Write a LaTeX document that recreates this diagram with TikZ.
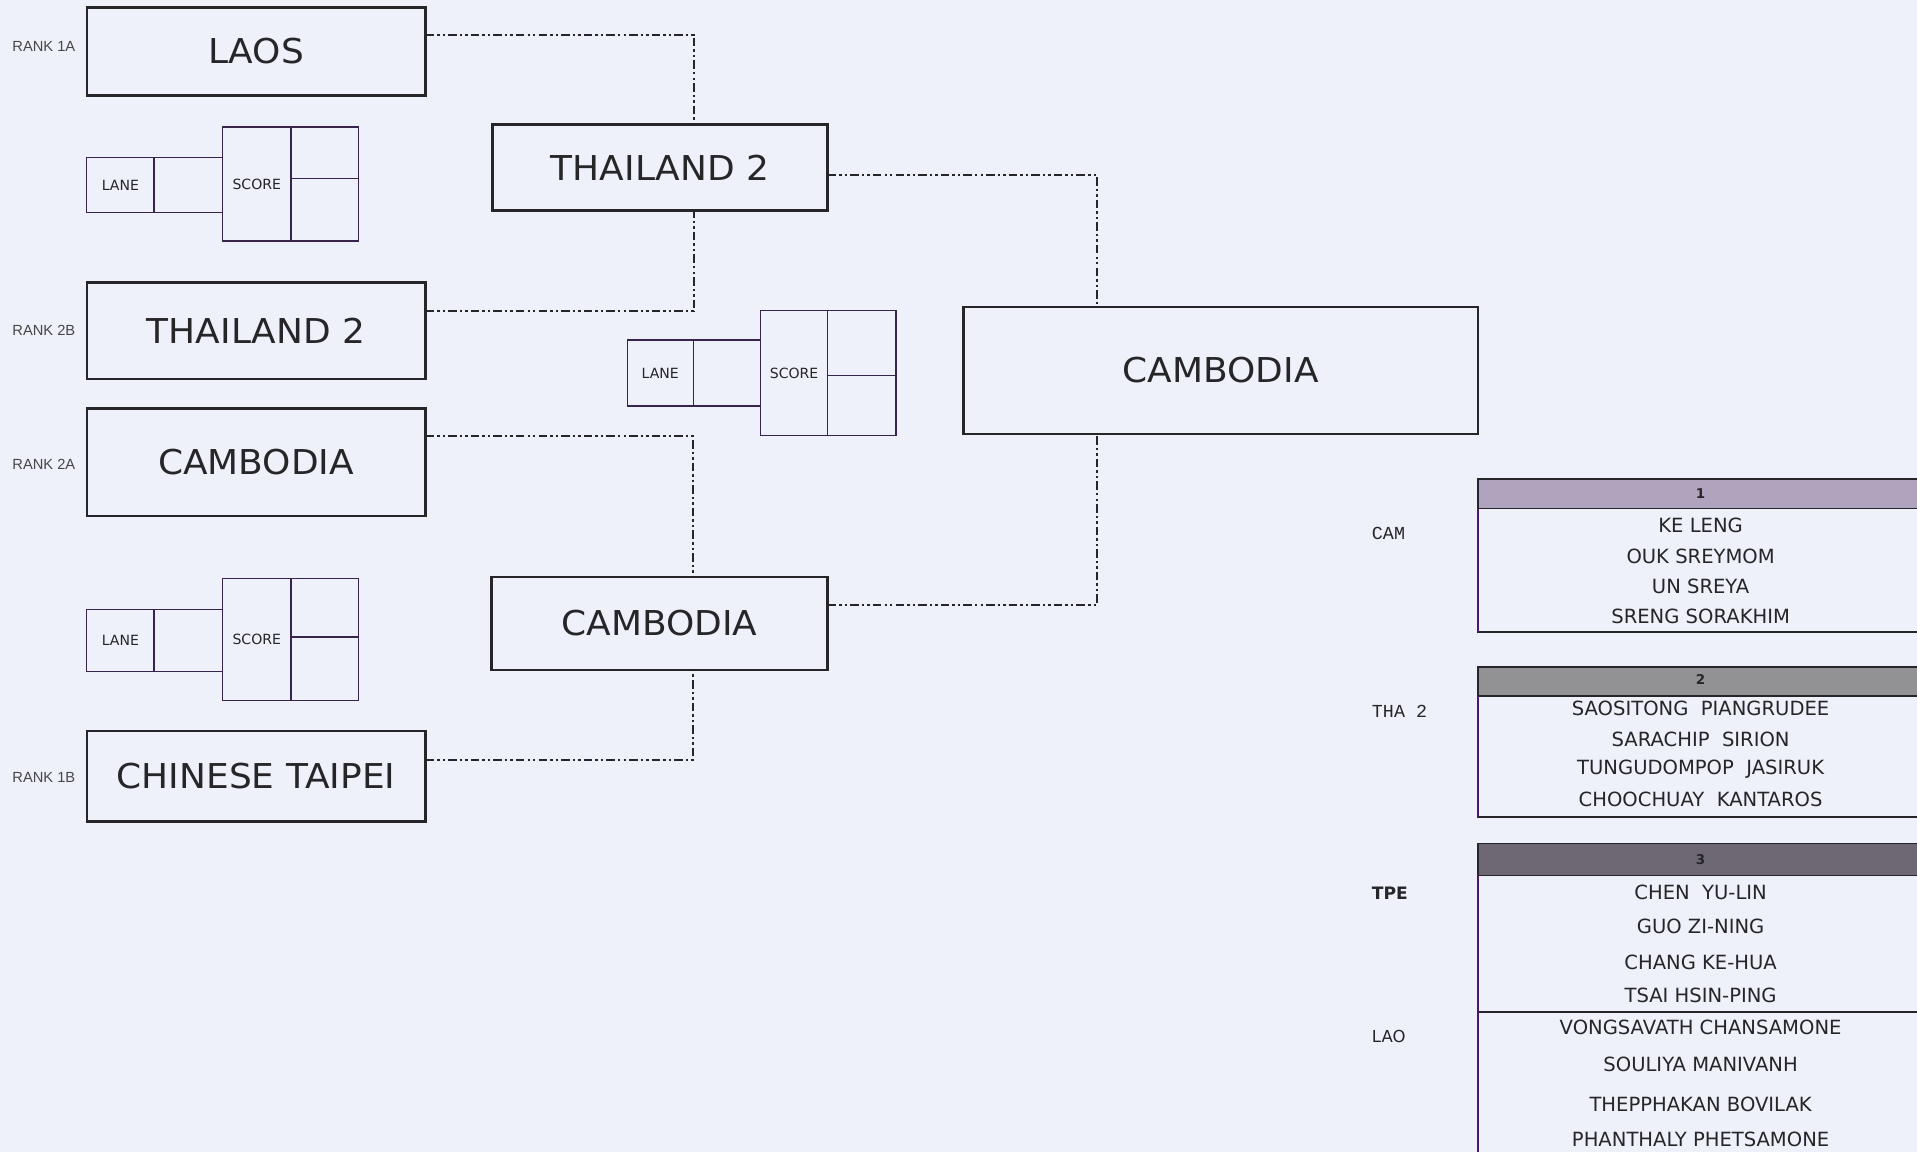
\documentclass[tikz,border=0pt]{standalone}
\usepackage{fontspec}
\setmainfont{DejaVu Sans}
\newfontfamily\teamfont[FakeStretch=1.05]{DejaVu Sans}
\newfontfamily\rankfont{Liberation Sans}
\newfontfamily\codefont{Liberation Mono}
\usetikzlibrary{calc}
\definecolor{bg}{RGB}{238,240,250}
\definecolor{ink}{RGB}{38,38,40}
\definecolor{cellc}{RGB}{55,35,75}
\definecolor{purpline}{RGB}{75,25,100}
\definecolor{headA}{RGB}{176,163,190}
\definecolor{headB}{RGB}{146,146,148}
\definecolor{headC}{RGB}{110,104,116}
\begin{document}
\begin{tikzpicture}[x=1pt,y=-1pt,
  team/.style={draw=ink, line width=2pt, inner sep=0pt, outer sep=0pt, text=ink,
    font=\teamfont\fontsize{28}{30}\selectfont},
  cell/.style={draw=cellc, line width=1.1pt, inner sep=0pt, outer sep=0pt, text=ink},
  celltxt/.style={font=\fontsize{11.5}{12}\selectfont},
  conn/.style={draw=ink, line width=1.7pt,
    dash pattern=on 7pt off 2.5pt on 2pt off 2.5pt on 2pt off 2.5pt},
  rank/.style={anchor=west, inner sep=0pt, text=ink!85, font=\rankfont\fontsize{12}{13}\selectfont},
  thead/.style={draw=ink, line width=1.4pt, inner sep=0pt, outer sep=0pt, anchor=north west, minimum width=420pt},
  tbody/.style={draw=ink, line width=1.4pt, inner sep=0pt, outer sep=0pt, anchor=north west, minimum width=420pt},
  pname/.style={inner sep=0pt, text=ink, font=\fontsize{16}{18}\selectfont},
  hnum/.style={inner sep=0pt, text=ink, font=\bfseries\fontsize{11}{12}\selectfont},
  ctry/.style={anchor=west, inner sep=0pt, text=ink},
]
\clip (0,0) rectangle (1568,942);
\fill[bg] (0,0) rectangle (1568,942);

% ---- first round teams
\node[team, minimum width=277pt, minimum height=72pt] (laos) at (209.5,42) {LAOS};
\node[team, minimum width=277pt, minimum height=79pt] (tha2L) at (209.5,270.5) {THAILAND 2};
\node[team, minimum width=277pt, minimum height=88pt] (camL) at (209.5,378) {CAMBODIA};
\node[team, minimum width=277pt, minimum height=74pt] (tpe) at (209.5,635) {CHINESE TAIPEI};

\node[rank] (r1a) at (10,38) {RANK 1A};
\node[rank] (r2b) at (10,270) {RANK 2B};
\node[rank] (r2a) at (10,380) {RANK 2A};
\node[rank] (r1b) at (10,636) {RANK 1B};

% ---- second round
\node[team, minimum width=274pt, minimum height=70pt] (tha2M) at (540,137) {THAILAND 2};
\node[team, minimum width=275pt, minimum height=76pt] (camM) at (539.5,510) {CAMBODIA};

% ---- final
\node[team, minimum width=421pt, minimum height=104pt] (final) at (998.5,303) {CAMBODIA};

% ---- score boxes (top left)
\node[cell, celltxt, minimum width=55pt, minimum height=45pt] (lane1) at (98.5,151.5) {LANE};
\node[cell, minimum width=56pt, minimum height=45pt] (blank1) at (154,151.5) {};
\node[cell, celltxt, minimum width=56pt, minimum height=93pt] (score1) at (210,150.5) {SCORE};
\node[cell, minimum width=55pt, minimum height=42pt] (s1a) at (265.5,125) {};
\node[cell, minimum width=55pt, minimum height=51pt] (s1b) at (265.5,171.5) {};

% ---- score boxes (bottom left)
\node[cell, celltxt, minimum width=55pt, minimum height=51pt] (lane2) at (98.5,524) {LANE};
\node[cell, minimum width=56pt, minimum height=51pt] (blank2) at (154,524) {};
\node[cell, celltxt, minimum width=56pt, minimum height=100pt] (score2) at (210,523) {SCORE};
\node[cell, minimum width=55pt, minimum height=48pt] (s2a) at (265.5,497) {};
\node[cell, minimum width=55pt, minimum height=52pt] (s2b) at (265.5,547) {};

% ---- score boxes (middle)
\node[cell, celltxt, minimum width=54pt, minimum height=54pt] (lane3) at (540,305) {LANE};
\node[cell, minimum width=55pt, minimum height=54pt] (blank3) at (594.5,305) {};
\node[cell, celltxt, minimum width=55pt, minimum height=102pt] (score3) at (649.5,305) {SCORE};
\node[cell, minimum width=56pt, minimum height=53pt] (s3a) at (705,280.5) {};
\node[cell, minimum width=56pt, minimum height=49pt] (s3b) at (705,331.5) {};

% ---- connectors
\draw[conn] ($(laos.north east)!0.31!(laos.south east)$) -| ($(tha2M.north west)!0.6!(tha2M.north east)$);
\draw[conn] ($(tha2L.north east)!0.3!(tha2L.south east)$) -| ($(tha2M.south west)!0.6!(tha2M.south east)$);
\draw[conn] ($(camL.north east)!0.26!(camL.south east)$) -| ($(camM.north west)!0.6!(camM.north east)$);
\draw[conn] ($(tpe.north east)!0.32!(tpe.south east)$) -| ($(camM.south west)!0.6!(camM.south east)$);
\draw[conn] ($(tha2M.north east)!0.59!(tha2M.south east)$) -| ($(final.north west)!0.26!(final.north east)$);
\draw[conn] ($(camM.north east)!0.3!(camM.south east)$) -| ($(final.south west)!0.26!(final.south east)$);

% ---- table 1
\node[thead, fill=headA, minimum height=24pt] (h1) at (1209,392) {};
\node[hnum] (n1) at (1391,404) {1};
\node[tbody, minimum height=101pt] (b1) at (1209,416) {};
\draw[purpline, line width=1.4pt] (b1.north west) -- (b1.south west);
\node[pname] (p11) at (1391,429.5) {KE LENG};
\node[pname] (p12) at (1391,455) {OUK SREYMOM};
\node[pname] (p13) at (1391,479.5) {UN SREYA};
\node[pname] (p14) at (1391,504.5) {SRENG SORAKHIM};
\node[ctry, font=\codefont\fontsize{15}{16}\selectfont] (cam) at (1122,436) {CAM};

% ---- table 2
\node[thead, fill=headB, minimum height=24pt] (h2) at (1209,545.5) {};
\node[hnum] (n2) at (1391,556) {2};
\node[tbody, minimum height=99pt] (b2) at (1209,569.5) {};
\draw[purpline, line width=1.4pt] (b2.north west) -- (b2.south west);
\node[pname] (p21) at (1391,579.5) {SAOSITONG\ \ PIANGRUDEE};
\node[pname] (p22) at (1391,604.5) {SARACHIP\ \ SIRION};
\node[pname] (p23) at (1391,629) {TUNGUDOMPOP\ \ JASIRUK};
\node[pname] (p24) at (1391,654) {CHOOCHUAY\ \ KANTAROS};
\node[ctry, font=\codefont\fontsize{15}{16}\selectfont] (tha) at (1122,582) {THA 2};

% ---- table 3
\node[thead, fill=headC, minimum height=26pt] (h3) at (1209,690) {};
\node[hnum] (n3) at (1391,703) {3};
\node[tbody, minimum height=111.5pt] (b3a) at (1209,716) {};
\node[tbody, minimum height=140pt] (b3b) at (1209,827.5) {};
\draw[purpline, line width=1.4pt] (b3a.north west) -- (b3b.south west);
\node[pname] (p31) at (1391,729.5) {CHEN\ \ YU-LIN};
\node[pname] (p32) at (1391,757.5) {GUO ZI-NING};
\node[pname] (p33) at (1391,787) {CHANG KE-HUA};
\node[pname] (p34) at (1391,814) {TSAI HSIN-PING};
\node[pname] (p35) at (1391,840.5) {VONGSAVATH CHANSAMONE};
\node[pname] (p36) at (1391,870.5) {SOULIYA MANIVANH};
\node[pname] (p37) at (1391,903) {THEPPHAKAN BOVILAK};
\node[pname] (p38) at (1391,932) {PHANTHALY PHETSAMONE};
\node[ctry, font=\bfseries\fontsize{14}{15}\selectfont] (tpel) at (1122,731) {TPE};
\node[ctry, font=\fontsize{13.5}{15}\selectfont] (lao) at (1122,848) {LAO};
\end{tikzpicture}
\end{document}
